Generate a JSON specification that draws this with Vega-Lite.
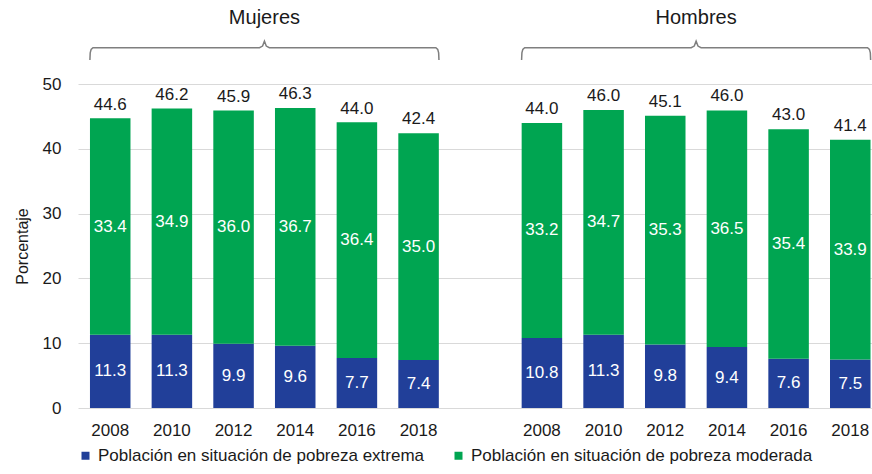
{
  "$schema": "https://vega.github.io/schema/vega-lite/v6.json",
  "width": 794,
  "height": 324,
  "autosize": {"type": "none"},
  "padding": {"left": 78, "top": 84, "right": 0, "bottom": 66},
  "background": "white",
  "config": {
    "font": "Liberation Sans",
    "view": {"stroke": null},
    "text": {"font": "Liberation Sans"}
  },
  "datasets": {
    "segmentos": [
      {"grupo": "Mujeres", "anio": "2008", "barra": "Mujeres 2008", "tipo": "Población en situación de pobreza extrema", "valor": 11.3},
      {"grupo": "Mujeres", "anio": "2008", "barra": "Mujeres 2008", "tipo": "Población en situación de pobreza moderada", "valor": 33.4},
      {"grupo": "Mujeres", "anio": "2010", "barra": "Mujeres 2010", "tipo": "Población en situación de pobreza extrema", "valor": 11.3},
      {"grupo": "Mujeres", "anio": "2010", "barra": "Mujeres 2010", "tipo": "Población en situación de pobreza moderada", "valor": 34.9},
      {"grupo": "Mujeres", "anio": "2012", "barra": "Mujeres 2012", "tipo": "Población en situación de pobreza extrema", "valor": 9.9},
      {"grupo": "Mujeres", "anio": "2012", "barra": "Mujeres 2012", "tipo": "Población en situación de pobreza moderada", "valor": 36.0},
      {"grupo": "Mujeres", "anio": "2014", "barra": "Mujeres 2014", "tipo": "Población en situación de pobreza extrema", "valor": 9.6},
      {"grupo": "Mujeres", "anio": "2014", "barra": "Mujeres 2014", "tipo": "Población en situación de pobreza moderada", "valor": 36.7},
      {"grupo": "Mujeres", "anio": "2016", "barra": "Mujeres 2016", "tipo": "Población en situación de pobreza extrema", "valor": 7.7},
      {"grupo": "Mujeres", "anio": "2016", "barra": "Mujeres 2016", "tipo": "Población en situación de pobreza moderada", "valor": 36.4},
      {"grupo": "Mujeres", "anio": "2018", "barra": "Mujeres 2018", "tipo": "Población en situación de pobreza extrema", "valor": 7.4},
      {"grupo": "Mujeres", "anio": "2018", "barra": "Mujeres 2018", "tipo": "Población en situación de pobreza moderada", "valor": 35.0},
      {"grupo": "Hombres", "anio": "2008", "barra": "Hombres 2008", "tipo": "Población en situación de pobreza extrema", "valor": 10.8},
      {"grupo": "Hombres", "anio": "2008", "barra": "Hombres 2008", "tipo": "Población en situación de pobreza moderada", "valor": 33.2},
      {"grupo": "Hombres", "anio": "2010", "barra": "Hombres 2010", "tipo": "Población en situación de pobreza extrema", "valor": 11.3},
      {"grupo": "Hombres", "anio": "2010", "barra": "Hombres 2010", "tipo": "Población en situación de pobreza moderada", "valor": 34.7},
      {"grupo": "Hombres", "anio": "2012", "barra": "Hombres 2012", "tipo": "Población en situación de pobreza extrema", "valor": 9.8},
      {"grupo": "Hombres", "anio": "2012", "barra": "Hombres 2012", "tipo": "Población en situación de pobreza moderada", "valor": 35.3},
      {"grupo": "Hombres", "anio": "2014", "barra": "Hombres 2014", "tipo": "Población en situación de pobreza extrema", "valor": 9.4},
      {"grupo": "Hombres", "anio": "2014", "barra": "Hombres 2014", "tipo": "Población en situación de pobreza moderada", "valor": 36.5},
      {"grupo": "Hombres", "anio": "2016", "barra": "Hombres 2016", "tipo": "Población en situación de pobreza extrema", "valor": 7.6},
      {"grupo": "Hombres", "anio": "2016", "barra": "Hombres 2016", "tipo": "Población en situación de pobreza moderada", "valor": 35.4},
      {"grupo": "Hombres", "anio": "2018", "barra": "Hombres 2018", "tipo": "Población en situación de pobreza extrema", "valor": 7.5},
      {"grupo": "Hombres", "anio": "2018", "barra": "Hombres 2018", "tipo": "Población en situación de pobreza moderada", "valor": 33.9}
    ],
    "totales": [
      {"barra": "Mujeres 2008", "total": 44.6},
      {"barra": "Mujeres 2010", "total": 46.2},
      {"barra": "Mujeres 2012", "total": 45.9},
      {"barra": "Mujeres 2014", "total": 46.3},
      {"barra": "Mujeres 2016", "total": 44.0},
      {"barra": "Mujeres 2018", "total": 42.4},
      {"barra": "Hombres 2008", "total": 44.0},
      {"barra": "Hombres 2010", "total": 46.0},
      {"barra": "Hombres 2012", "total": 45.1},
      {"barra": "Hombres 2014", "total": 46.0},
      {"barra": "Hombres 2016", "total": 43.0},
      {"barra": "Hombres 2018", "total": 41.4}
    ],
    "llaves": [
      {"grupo": "Mujeres", "u": -0.33, "v": 53.7},
      {"grupo": "Mujeres", "u": -0.325, "v": 54.8},
      {"grupo": "Mujeres", "u": -0.31, "v": 55.35},
      {"grupo": "Mujeres", "u": -0.28, "v": 55.6},
      {"grupo": "Mujeres", "u": 2.42, "v": 55.6},
      {"grupo": "Mujeres", "u": 2.47, "v": 55.85},
      {"grupo": "Mujeres", "u": 2.5, "v": 56.6},
      {"grupo": "Mujeres", "u": 2.53, "v": 55.85},
      {"grupo": "Mujeres", "u": 2.58, "v": 55.6},
      {"grupo": "Mujeres", "u": 5.28, "v": 55.6},
      {"grupo": "Mujeres", "u": 5.31, "v": 55.35},
      {"grupo": "Mujeres", "u": 5.325, "v": 54.8},
      {"grupo": "Mujeres", "u": 5.33, "v": 53.7},
      {"grupo": "Hombres", "u": 6.67, "v": 53.7},
      {"grupo": "Hombres", "u": 6.675, "v": 54.8},
      {"grupo": "Hombres", "u": 6.69, "v": 55.35},
      {"grupo": "Hombres", "u": 6.72, "v": 55.6},
      {"grupo": "Hombres", "u": 9.42, "v": 55.6},
      {"grupo": "Hombres", "u": 9.47, "v": 55.85},
      {"grupo": "Hombres", "u": 9.5, "v": 56.6},
      {"grupo": "Hombres", "u": 9.53, "v": 55.85},
      {"grupo": "Hombres", "u": 9.58, "v": 55.6},
      {"grupo": "Hombres", "u": 12.28, "v": 55.6},
      {"grupo": "Hombres", "u": 12.31, "v": 55.35},
      {"grupo": "Hombres", "u": 12.325, "v": 54.8},
      {"grupo": "Hombres", "u": 12.33, "v": 53.7}
    ],
    "grupos": [
      {"grupo": "Mujeres", "u": 2.5, "v": 60.2},
      {"grupo": "Hombres", "u": 9.5, "v": 60.2}
    ]
  },
  "layer": [
    {
      "encoding": {
        "x": {
          "field": "barra",
          "type": "nominal",
          "scale": {
            "domain": ["Mujeres 2008", "Mujeres 2010", "Mujeres 2012", "Mujeres 2014", "Mujeres 2016", "Mujeres 2018", " ", "Hombres 2008", "Hombres 2010", "Hombres 2012", "Hombres 2014", "Hombres 2016", "Hombres 2018"],
            "paddingInner": 0.343,
            "paddingOuter": 0.109,
            "align": 0.89
          },
          "axis": {
            "title": null,
            "labelAngle": 0,
            "domain": false,
            "ticks": false,
            "labelPadding": 14,
            "labelFontSize": 17,
            "labelColor": "#1a1a1a",
            "labelExpr": "split(datum.label, ' ')[1] || ''"
          }
        }
      },
      "layer": [
        {
          "data": {"name": "segmentos"},
          "mark": {"type": "bar"},
          "encoding": {
            "y": {
              "field": "valor",
              "type": "quantitative",
              "stack": "zero",
              "scale": {"domain": [0, 50], "nice": false},
              "axis": {
                "title": "Porcentaje",
                "values": [0, 10, 20, 30, 40, 50],
                "grid": true,
                "gridColor": "#d9d9d9",
                "gridWidth": 1,
                "domain": false,
                "ticks": false,
                "labelPadding": 17,
                "labelFontSize": 17,
                "labelColor": "#1a1a1a",
                "titleFontSize": 16,
                "titleFontWeight": "normal",
                "titleColor": "#1a1a1a",
                "titlePadding": 12
              }
            },
            "order": {"field": "tipo", "type": "nominal", "sort": "ascending"},
            "color": {
              "field": "tipo",
              "type": "nominal",
              "scale": {
                "domain": ["Población en situación de pobreza extrema", "Población en situación de pobreza moderada"],
                "range": ["#213f99", "#00a551"]
              },
              "legend": {
                "title": null,
                "orient": "none",
                "legendX": -1,
                "legendY": 363,
                "direction": "horizontal",
                "symbolType": "square",
                "symbolSize": 64,
                "symbolStrokeWidth": 0,
                "labelFontSize": 17,
                "labelColor": "#1a1a1a",
                "labelOffset": 4,
                "columnPadding": 25,
                "labelLimit": 500,
                "padding": 0
              }
            }
          }
        },
        {
          "data": {"name": "segmentos"},
          "mark": {"type": "text", "color": "white", "fontSize": 17, "baseline": "middle"},
          "encoding": {
            "y": {
              "field": "valor",
              "type": "quantitative",
              "stack": "zero",
              "bandPosition": 0.5,
              "scale": {"domain": [0, 50], "nice": false}
            },
            "order": {"field": "tipo", "type": "nominal", "sort": "ascending"},
            "detail": {"field": "tipo", "type": "nominal"},
            "text": {"field": "valor", "type": "quantitative", "format": ".1f"}
          }
        },
        {
          "data": {"name": "totales"},
          "mark": {"type": "text", "color": "#1a1a1a", "fontSize": 17, "baseline": "bottom", "dy": -5},
          "encoding": {
            "y": {
              "field": "total",
              "type": "quantitative",
              "scale": {"domain": [0, 50], "nice": false}
            },
            "text": {"field": "total", "type": "quantitative", "format": ".1f"}
          }
        }
      ]
    },
    {
      "encoding": {
        "x": {
          "field": "u",
          "type": "quantitative",
          "scale": {"domain": [-0.523, 12.352], "nice": false, "zero": false},
          "axis": null
        },
        "y": {
          "field": "v",
          "type": "quantitative",
          "scale": {"domain": [0, 50], "nice": false}
        }
      },
      "layer": [
        {
          "data": {"name": "llaves"},
          "mark": {"type": "line", "color": "#7f7f7f", "strokeWidth": 1.5, "interpolate": "linear"},
          "encoding": {
            "detail": {"field": "grupo", "type": "nominal"}
          }
        },
        {
          "data": {"name": "grupos"},
          "mark": {"type": "text", "color": "#1a1a1a", "fontSize": 20, "baseline": "middle"},
          "encoding": {
            "text": {"field": "grupo", "type": "nominal"}
          }
        }
      ]
    }
  ],
  "resolve": {"scale": {"x": "independent"}}
}
